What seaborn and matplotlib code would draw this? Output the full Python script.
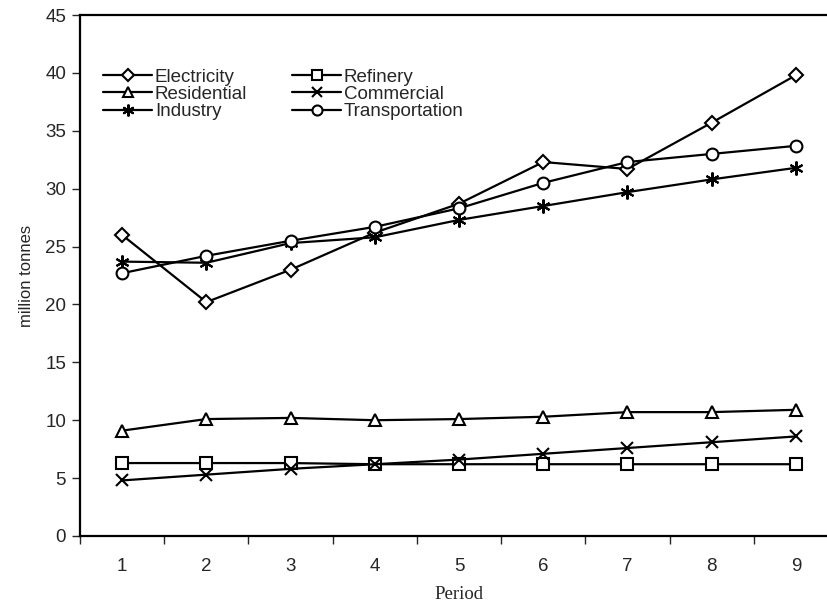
import numpy as np
import pandas as pd
import matplotlib
matplotlib.use("Agg")
import matplotlib.pyplot as plt
from matplotlib.ticker import FixedLocator, NullFormatter
import seaborn as sns

period = [1, 2, 3, 4, 5, 6, 7, 8, 9]
electricity = [26.0, 20.2, 23.0, 26.2, 28.7, 32.3, 31.7, 35.7, 39.8]
refinery = [6.3, 6.3, 6.3, 6.2, 6.2, 6.2, 6.2, 6.2, 6.2]
residential = [9.1, 10.1, 10.2, 10.0, 10.1, 10.3, 10.7, 10.7, 10.9]
commercial = [4.8, 5.3, 5.8, 6.2, 6.6, 7.1, 7.6, 8.1, 8.6]
industry = [23.7, 23.6, 25.3, 25.8, 27.3, 28.5, 29.7, 30.8, 31.8]
transportation = [22.7, 24.2, 25.5, 26.7, 28.3, 30.5, 32.3, 33.0, 33.7]

series = [
    ("Electricity", electricity, "D", 7),
    ("Residential", residential, "^", 8),
    ("Industry", industry, (6, 2, 0), 10),
    ("Refinery", refinery, "s", 8),
    ("Commercial", commercial, "x", 9),
    ("Transportation", transportation, "o", 8.5),
]

sns.set_style("ticks")
plt.rcParams['font.family'] = ['Liberation Sans', 'DejaVu Sans']

fig = plt.figure(figsize=(8.28, 6.04), dpi=100)
# right edge of the plot box lies just outside the picture
ax = fig.add_axes([80/828, 68/604, 758/828, 521/604])

for name, vals, mk, ms in series:
    sns.lineplot(x=period, y=vals, ax=ax, color="black", linewidth=1.6,
                 marker=mk, markersize=ms, markerfacecolor="white",
                 markeredgecolor="black", markeredgewidth=1.5, label=name)

ax.set_xlim(0.5, 9.5)
ax.set_ylim(0, 45)
ax.set_yticks(np.arange(0, 46, 5))
ax.xaxis.set_major_locator(FixedLocator(period))
ax.xaxis.set_minor_locator(FixedLocator(np.arange(0.5, 10, 1)))
ax.xaxis.set_minor_formatter(NullFormatter())
ax.tick_params(axis="x", which="major", length=0, pad=16, labelsize=13.5)
ax.tick_params(axis="x", which="minor", length=6, width=1, direction="out")
ax.tick_params(axis="y", length=6, width=1, labelsize=13.5, pad=4)
for sp in ax.spines.values():
    sp.set_linewidth(1.6)
    sp.set_color("black")

ax.set_ylabel("million tonnes", fontsize=12, labelpad=8)
ax.set_xlabel("Period", fontsize=13.5, family=["Liberation Serif"], labelpad=8)

ax.legend(loc="upper left", bbox_to_anchor=(94/828, 1 - 59/604),
          bbox_transform=fig.transFigure, ncol=2, frameon=False,
          fontsize=13.5, handlelength=2.6, handletextpad=0.15,
          columnspacing=2.4, labelspacing=0.02, borderpad=0,
          markerscale=0.85)

fig.savefig("out.png", dpi=100)
